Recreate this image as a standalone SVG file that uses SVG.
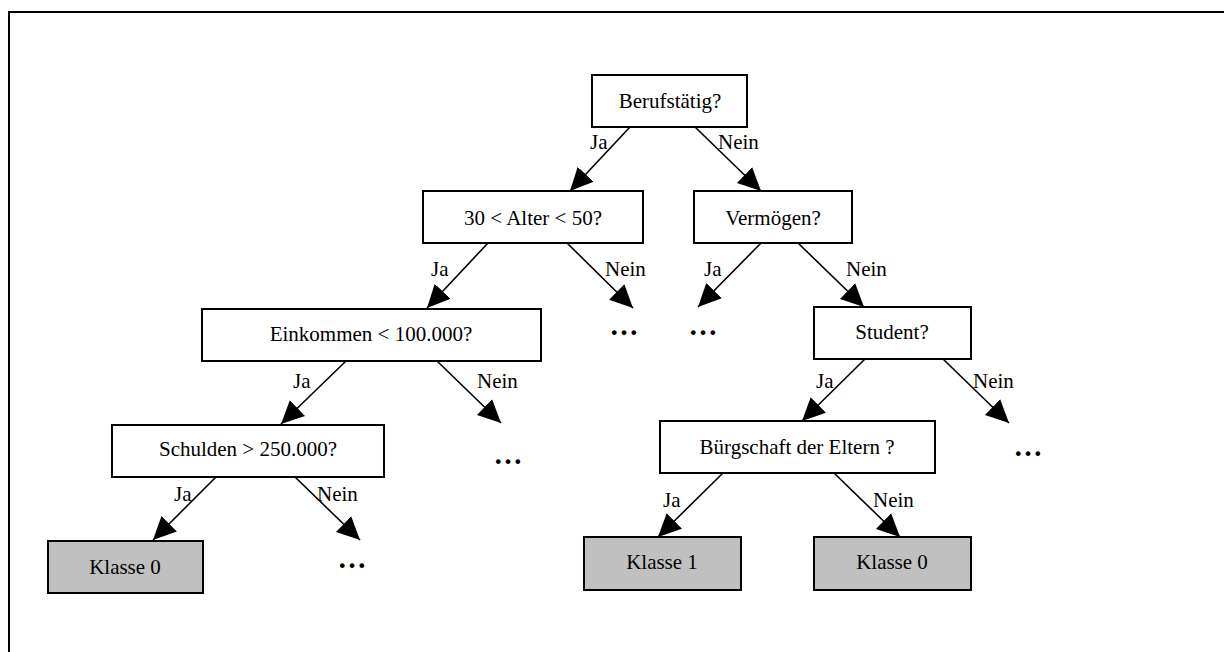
<svg xmlns="http://www.w3.org/2000/svg" width="1224" height="652" viewBox="0 0 1224 652">
<style>
  .box{fill:#ffffff;stroke:#000;stroke-width:2}
  .leaf{fill:#c0c0c0;stroke:#000;stroke-width:2}
  .t{font-family:"Liberation Serif","Times New Roman",serif;font-size:21px;fill:#000;text-anchor:middle}
  .l{font-family:"Liberation Serif","Times New Roman",serif;font-size:21px;fill:#000}
  .e{stroke:#000;stroke-width:1.6;fill:none;marker-end:url(#ah)}
  .dots{font-family:"Liberation Serif","Times New Roman",serif;font-size:29px;font-weight:bold;fill:#000;text-anchor:middle}
</style>
<defs>
  <marker id="ah" markerUnits="userSpaceOnUse" markerWidth="24" markerHeight="24" viewBox="0 0 22 20" refX="21" refY="10" orient="auto">
    <path d="M0,0 L21,10 L0,20 Z" fill="#000"/>
  </marker>
</defs>
<rect width="1224" height="652" fill="#fff"/>
<path d="M9,660 L9,12 L1230,12" fill="none" stroke="#000" stroke-width="2"/>

<g id="connectors">
  <line class="e" x1="630" y1="127" x2="570" y2="191"/>
  <line class="e" x1="695" y1="127" x2="761" y2="191"/>
  <line class="e" x1="488" y1="243" x2="427" y2="308"/>
  <line class="e" x1="567" y1="243" x2="633" y2="308"/>
  <line class="e" x1="761" y1="243" x2="698" y2="307"/>
  <line class="e" x1="798" y1="243" x2="864" y2="307"/>
  <line class="e" x1="346" y1="361" x2="281" y2="424"/>
  <line class="e" x1="437" y1="361" x2="501" y2="423"/>
  <line class="e" x1="216" y1="477" x2="153" y2="540"/>
  <line class="e" x1="295" y1="477" x2="360" y2="540"/>
  <line class="e" x1="865" y1="359" x2="802" y2="421"/>
  <line class="e" x1="943" y1="359" x2="1009" y2="423"/>
  <line class="e" x1="723" y1="473" x2="658" y2="537"/>
  <line class="e" x1="834" y1="473" x2="900" y2="537"/>
  <text class="l" x="590" y="149">Ja</text>
  <text class="l" x="718" y="149">Nein</text>
  <text class="l" x="431" y="276">Ja</text>
  <text class="l" x="605" y="276">Nein</text>
  <text class="l" x="704" y="276">Ja</text>
  <text class="l" x="846" y="276">Nein</text>
  <text class="l" x="293" y="388">Ja</text>
  <text class="l" x="477" y="388">Nein</text>
  <text class="l" x="174" y="501">Ja</text>
  <text class="l" x="317" y="501">Nein</text>
  <text class="l" x="816" y="388">Ja</text>
  <text class="l" x="973" y="388">Nein</text>
  <text class="l" x="663" y="507">Ja</text>
  <text class="l" x="873" y="507">Nein</text>
</g>

<g id="n-berufstaetig"><rect class="box" x="592" y="75" width="155" height="52"/><text class="t" x="670" y="108">Berufstätig?</text></g>
<g id="n-alter"><rect class="box" x="423" y="191" width="220" height="52"/><text class="t" x="533" y="225">30 &lt; Alter &lt; 50?</text></g>
<g id="n-vermoegen"><rect class="box" x="694" y="191" width="158" height="52"/><text class="t" x="773" y="225">Vermögen?</text></g>
<g id="n-einkommen"><rect class="box" x="202" y="309" width="339" height="52"/><text class="t" x="371" y="341">Einkommen &lt; 100.000?</text></g>
<g id="n-student"><rect class="box" x="814" y="307" width="157" height="52"/><text class="t" x="892" y="339">Student?</text></g>
<g id="n-schulden"><rect class="box" x="112" y="425" width="272" height="52"/><text class="t" x="248" y="456">Schulden &gt; 250.000?</text></g>
<g id="n-buergschaft"><rect class="box" x="660" y="421" width="275" height="52"/><text class="t" x="797" y="454">Bürgschaft der Eltern ?</text></g>
<g id="n-klasse0a"><rect class="leaf" x="48" y="541" width="155" height="52"/><text class="t" x="125" y="574">Klasse 0</text></g>
<g id="n-klasse1"><rect class="leaf" x="584" y="537" width="157" height="53"/><text class="t" x="662" y="569">Klasse 1</text></g>
<g id="n-klasse0b"><rect class="leaf" x="814" y="537" width="157" height="53"/><text class="t" x="892" y="569">Klasse 0</text></g>

<g id="n-dots1"><text class="dots" x="624" y="335">…</text></g>
<g id="n-dots2"><text class="dots" x="703" y="335">…</text></g>
<g id="n-dots3"><text class="dots" x="508" y="464">…</text></g>
<g id="n-dots4"><text class="dots" x="352" y="568">…</text></g>
<g id="n-dots5"><text class="dots" x="1028" y="456">…</text></g>
</svg>
